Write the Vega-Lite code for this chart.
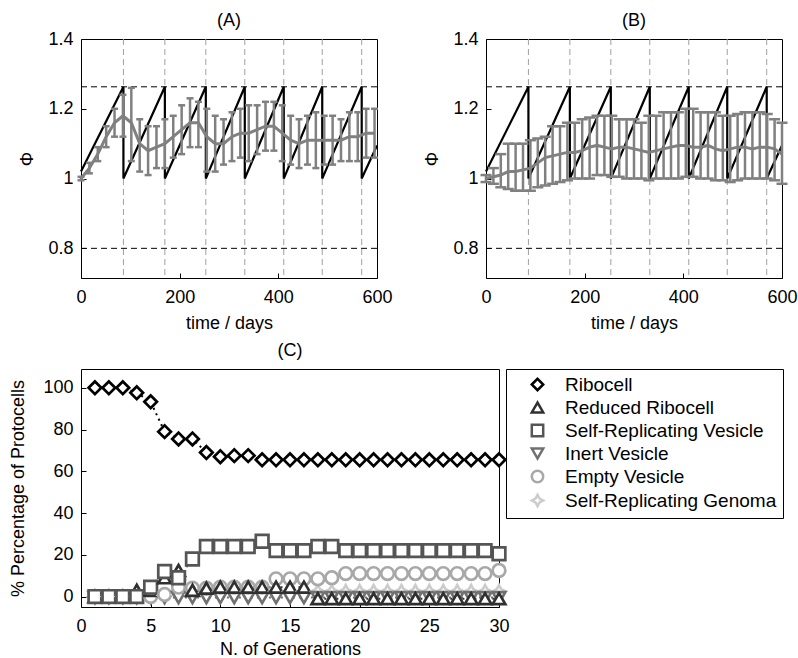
{
  "$schema": "https://vega.github.io/schema/vega-lite/v6.json",
  "padding": {"left": 9, "top": 11, "right": 5, "bottom": 5},
  "datasets": {
    "cuts": [{"t": 86}, {"t": 170}, {"t": 253}, {"t": 332}, {"t": 411}, {"t": 489}, {"t": 569}],
    "thr": [{"v": 1.263}, {"v": 0.8}],
    "saw": [
      {"i": 0, "t": 0, "phi": 1.02}, {"i": 1, "t": 86, "phi": 1.263}, {"i": 2, "t": 86, "phi": 1.0},
      {"i": 3, "t": 170, "phi": 1.263}, {"i": 4, "t": 170, "phi": 1.0}, {"i": 5, "t": 253, "phi": 1.263},
      {"i": 6, "t": 253, "phi": 1.0}, {"i": 7, "t": 332, "phi": 1.263}, {"i": 8, "t": 332, "phi": 1.0},
      {"i": 9, "t": 411, "phi": 1.263}, {"i": 10, "t": 411, "phi": 1.0}, {"i": 11, "t": 489, "phi": 1.263},
      {"i": 12, "t": 489, "phi": 1.0}, {"i": 13, "t": 569, "phi": 1.263}, {"i": 14, "t": 569, "phi": 1.0},
      {"i": 15, "t": 600, "phi": 1.095}
    ],
    "A": [
      {"t": 0, "m": 1.0, "lo": 0.995, "hi": 1.005},
      {"t": 17, "m": 1.03, "lo": 1.015, "hi": 1.045},
      {"t": 34, "m": 1.07, "lo": 1.05, "hi": 1.09},
      {"t": 51, "m": 1.12, "lo": 1.09, "hi": 1.15},
      {"t": 68, "m": 1.16, "lo": 1.12, "hi": 1.2},
      {"t": 85, "m": 1.18, "lo": 1.12, "hi": 1.24},
      {"t": 102, "m": 1.16, "lo": 1.05, "hi": 1.26},
      {"t": 119, "m": 1.1, "lo": 1.02, "hi": 1.17},
      {"t": 136, "m": 1.08, "lo": 1.01, "hi": 1.15},
      {"t": 153, "m": 1.09, "lo": 1.03, "hi": 1.15},
      {"t": 170, "m": 1.1, "lo": 1.03, "hi": 1.17},
      {"t": 187, "m": 1.12, "lo": 1.06, "hi": 1.18},
      {"t": 204, "m": 1.14, "lo": 1.07, "hi": 1.21},
      {"t": 221, "m": 1.16, "lo": 1.09, "hi": 1.23},
      {"t": 238, "m": 1.16, "lo": 1.09, "hi": 1.22},
      {"t": 255, "m": 1.12, "lo": 1.02, "hi": 1.2},
      {"t": 272, "m": 1.1, "lo": 1.02, "hi": 1.18},
      {"t": 289, "m": 1.1, "lo": 1.04, "hi": 1.17},
      {"t": 306, "m": 1.12, "lo": 1.05, "hi": 1.19},
      {"t": 323, "m": 1.13, "lo": 1.06, "hi": 1.2},
      {"t": 340, "m": 1.13, "lo": 1.05, "hi": 1.21},
      {"t": 357, "m": 1.14, "lo": 1.07, "hi": 1.21},
      {"t": 374, "m": 1.15, "lo": 1.08, "hi": 1.22},
      {"t": 391, "m": 1.15, "lo": 1.08, "hi": 1.22},
      {"t": 408, "m": 1.13, "lo": 1.05, "hi": 1.21},
      {"t": 425, "m": 1.11, "lo": 1.04, "hi": 1.18},
      {"t": 442, "m": 1.1, "lo": 1.03, "hi": 1.17},
      {"t": 459, "m": 1.11, "lo": 1.04, "hi": 1.18},
      {"t": 476, "m": 1.11, "lo": 1.03, "hi": 1.19},
      {"t": 493, "m": 1.11, "lo": 1.04, "hi": 1.18},
      {"t": 510, "m": 1.11, "lo": 1.04, "hi": 1.18},
      {"t": 527, "m": 1.11, "lo": 1.05, "hi": 1.17},
      {"t": 544, "m": 1.12, "lo": 1.05, "hi": 1.19},
      {"t": 561, "m": 1.12, "lo": 1.05, "hi": 1.19},
      {"t": 578, "m": 1.13, "lo": 1.06, "hi": 1.2},
      {"t": 595, "m": 1.13, "lo": 1.06, "hi": 1.2}
    ],
    "B": [
      {"t": 0, "m": 1.0, "lo": 0.99, "hi": 1.01},
      {"t": 15, "m": 1.005, "lo": 0.985, "hi": 1.03},
      {"t": 30, "m": 1.01, "lo": 0.975, "hi": 1.07},
      {"t": 45, "m": 1.02, "lo": 0.97, "hi": 1.1},
      {"t": 60, "m": 1.02, "lo": 0.965, "hi": 1.1},
      {"t": 75, "m": 1.025, "lo": 0.965, "hi": 1.1},
      {"t": 90, "m": 1.03, "lo": 0.965, "hi": 1.11},
      {"t": 105, "m": 1.045, "lo": 0.975, "hi": 1.115},
      {"t": 120, "m": 1.06, "lo": 0.98, "hi": 1.12},
      {"t": 135, "m": 1.065, "lo": 0.985, "hi": 1.15},
      {"t": 150, "m": 1.07, "lo": 0.99, "hi": 1.15},
      {"t": 165, "m": 1.075, "lo": 0.995, "hi": 1.16},
      {"t": 180, "m": 1.075, "lo": 1.0, "hi": 1.16},
      {"t": 195, "m": 1.08, "lo": 1.0, "hi": 1.17},
      {"t": 210, "m": 1.09, "lo": 1.0, "hi": 1.175},
      {"t": 225, "m": 1.095, "lo": 1.01, "hi": 1.18},
      {"t": 240, "m": 1.09, "lo": 1.01, "hi": 1.18},
      {"t": 255, "m": 1.085, "lo": 1.005, "hi": 1.18},
      {"t": 270, "m": 1.09, "lo": 1.005, "hi": 1.17},
      {"t": 285, "m": 1.09, "lo": 1.0, "hi": 1.17},
      {"t": 300, "m": 1.085, "lo": 1.0, "hi": 1.17},
      {"t": 315, "m": 1.08, "lo": 1.0, "hi": 1.16},
      {"t": 330, "m": 1.075, "lo": 0.995, "hi": 1.18},
      {"t": 345, "m": 1.08, "lo": 1.0, "hi": 1.18},
      {"t": 360, "m": 1.085, "lo": 1.0, "hi": 1.19},
      {"t": 375, "m": 1.09, "lo": 1.0, "hi": 1.19},
      {"t": 390, "m": 1.095, "lo": 1.0, "hi": 1.19},
      {"t": 405, "m": 1.095, "lo": 1.005, "hi": 1.2},
      {"t": 420, "m": 1.09, "lo": 1.005, "hi": 1.2},
      {"t": 435, "m": 1.09, "lo": 1.0, "hi": 1.19},
      {"t": 450, "m": 1.095, "lo": 1.0, "hi": 1.19},
      {"t": 465, "m": 1.085, "lo": 0.995, "hi": 1.19},
      {"t": 480, "m": 1.08, "lo": 0.995, "hi": 1.18},
      {"t": 495, "m": 1.085, "lo": 0.99, "hi": 1.18},
      {"t": 510, "m": 1.09, "lo": 0.995, "hi": 1.185},
      {"t": 525, "m": 1.09, "lo": 1.0, "hi": 1.19},
      {"t": 540, "m": 1.085, "lo": 1.0, "hi": 1.19},
      {"t": 555, "m": 1.09, "lo": 1.0, "hi": 1.19},
      {"t": 570, "m": 1.09, "lo": 1.0, "hi": 1.185},
      {"t": 585, "m": 1.085, "lo": 0.995, "hi": 1.17},
      {"t": 600, "m": 1.07, "lo": 0.985, "hi": 1.16}
    ],
    "C": [
      {"g": 1, "Ribocell": 100, "Reduced Ribocell": 0, "Self-Replicating Vesicle": 0, "Inert Vesicle": -0.5, "Empty Vesicle": 0, "Self-Replicating Genoma": 0},
      {"g": 2, "Ribocell": 100, "Reduced Ribocell": 0, "Self-Replicating Vesicle": 0, "Inert Vesicle": -0.5, "Empty Vesicle": 0, "Self-Replicating Genoma": 0},
      {"g": 3, "Ribocell": 100, "Reduced Ribocell": 0, "Self-Replicating Vesicle": 0, "Inert Vesicle": -0.5, "Empty Vesicle": 0, "Self-Replicating Genoma": 0},
      {"g": 4, "Ribocell": 97.6, "Reduced Ribocell": 3, "Self-Replicating Vesicle": 0, "Inert Vesicle": -0.5, "Empty Vesicle": 0, "Self-Replicating Genoma": 0},
      {"g": 5, "Ribocell": 93.3, "Reduced Ribocell": 3, "Self-Replicating Vesicle": 4.5, "Inert Vesicle": -0.5, "Empty Vesicle": 0, "Self-Replicating Genoma": 0},
      {"g": 6, "Ribocell": 79, "Reduced Ribocell": 9, "Self-Replicating Vesicle": 12, "Inert Vesicle": -0.5, "Empty Vesicle": 1, "Self-Replicating Genoma": 0.5},
      {"g": 7, "Ribocell": 75.5, "Reduced Ribocell": 12.5, "Self-Replicating Vesicle": 9, "Inert Vesicle": -0.5, "Empty Vesicle": 4.5, "Self-Replicating Genoma": 1},
      {"g": 8, "Ribocell": 75.5, "Reduced Ribocell": 3, "Self-Replicating Vesicle": 18, "Inert Vesicle": -0.5, "Empty Vesicle": 4, "Self-Replicating Genoma": 1},
      {"g": 9, "Ribocell": 69, "Reduced Ribocell": 4, "Self-Replicating Vesicle": 24, "Inert Vesicle": -0.5, "Empty Vesicle": 4, "Self-Replicating Genoma": 2},
      {"g": 10, "Ribocell": 67, "Reduced Ribocell": 4.5, "Self-Replicating Vesicle": 24, "Inert Vesicle": -0.5, "Empty Vesicle": 4.5, "Self-Replicating Genoma": 2.5},
      {"g": 11, "Ribocell": 67.5, "Reduced Ribocell": 4.5, "Self-Replicating Vesicle": 24, "Inert Vesicle": -0.5, "Empty Vesicle": 4.5, "Self-Replicating Genoma": 2.5},
      {"g": 12, "Ribocell": 67.5, "Reduced Ribocell": 4.5, "Self-Replicating Vesicle": 24, "Inert Vesicle": -0.5, "Empty Vesicle": 4.5, "Self-Replicating Genoma": 2.5},
      {"g": 13, "Ribocell": 65.5, "Reduced Ribocell": 4.5, "Self-Replicating Vesicle": 26.5, "Inert Vesicle": -0.5, "Empty Vesicle": 4.5, "Self-Replicating Genoma": 2.5},
      {"g": 14, "Ribocell": 65.5, "Reduced Ribocell": 4.5, "Self-Replicating Vesicle": 22, "Inert Vesicle": -0.5, "Empty Vesicle": 8.5, "Self-Replicating Genoma": 2.5},
      {"g": 15, "Ribocell": 65.5, "Reduced Ribocell": 4.5, "Self-Replicating Vesicle": 22, "Inert Vesicle": -0.5, "Empty Vesicle": 8.5, "Self-Replicating Genoma": 2.5},
      {"g": 16, "Ribocell": 65.5, "Reduced Ribocell": 4.5, "Self-Replicating Vesicle": 22, "Inert Vesicle": -0.5, "Empty Vesicle": 8.5, "Self-Replicating Genoma": 2.5},
      {"g": 17, "Ribocell": 65.5, "Reduced Ribocell": -1, "Self-Replicating Vesicle": 24, "Inert Vesicle": -0.5, "Empty Vesicle": 8.5, "Self-Replicating Genoma": 2.5},
      {"g": 18, "Ribocell": 65.5, "Reduced Ribocell": -1, "Self-Replicating Vesicle": 24, "Inert Vesicle": -0.5, "Empty Vesicle": 9, "Self-Replicating Genoma": 2.5},
      {"g": 19, "Ribocell": 65.5, "Reduced Ribocell": -1, "Self-Replicating Vesicle": 22, "Inert Vesicle": -0.5, "Empty Vesicle": 11, "Self-Replicating Genoma": 2.5},
      {"g": 20, "Ribocell": 65.5, "Reduced Ribocell": -1, "Self-Replicating Vesicle": 22, "Inert Vesicle": -0.5, "Empty Vesicle": 11, "Self-Replicating Genoma": 2.5},
      {"g": 21, "Ribocell": 65.5, "Reduced Ribocell": -1, "Self-Replicating Vesicle": 22, "Inert Vesicle": -0.5, "Empty Vesicle": 11, "Self-Replicating Genoma": 2.5},
      {"g": 22, "Ribocell": 65.5, "Reduced Ribocell": -1, "Self-Replicating Vesicle": 22, "Inert Vesicle": -0.5, "Empty Vesicle": 11, "Self-Replicating Genoma": 2.5},
      {"g": 23, "Ribocell": 65.5, "Reduced Ribocell": -1, "Self-Replicating Vesicle": 22, "Inert Vesicle": -0.5, "Empty Vesicle": 11, "Self-Replicating Genoma": 2.5},
      {"g": 24, "Ribocell": 65.5, "Reduced Ribocell": -1, "Self-Replicating Vesicle": 22, "Inert Vesicle": -0.5, "Empty Vesicle": 11, "Self-Replicating Genoma": 2.5},
      {"g": 25, "Ribocell": 65.5, "Reduced Ribocell": -1, "Self-Replicating Vesicle": 22, "Inert Vesicle": -0.5, "Empty Vesicle": 11, "Self-Replicating Genoma": 2.5},
      {"g": 26, "Ribocell": 65.5, "Reduced Ribocell": -1, "Self-Replicating Vesicle": 22, "Inert Vesicle": -0.5, "Empty Vesicle": 11, "Self-Replicating Genoma": 2.5},
      {"g": 27, "Ribocell": 65.5, "Reduced Ribocell": -1, "Self-Replicating Vesicle": 22, "Inert Vesicle": -0.5, "Empty Vesicle": 11, "Self-Replicating Genoma": 2.5},
      {"g": 28, "Ribocell": 65.5, "Reduced Ribocell": -1, "Self-Replicating Vesicle": 22, "Inert Vesicle": -0.5, "Empty Vesicle": 11, "Self-Replicating Genoma": 2.5},
      {"g": 29, "Ribocell": 65.5, "Reduced Ribocell": -1, "Self-Replicating Vesicle": 22, "Inert Vesicle": -0.5, "Empty Vesicle": 11, "Self-Replicating Genoma": 2.5},
      {"g": 30, "Ribocell": 65.5, "Reduced Ribocell": -1, "Self-Replicating Vesicle": 20.5, "Inert Vesicle": -0.5, "Empty Vesicle": 12.5, "Self-Replicating Genoma": 2.5}
    ]
  },
  "vconcat": [
    {
      "hconcat": [
        {
          "title": {"text": "(A)", "frame": "group", "offset": 0},
          "width": 296,
          "height": 239,
          "layer": [
            {"data": {"name": "cuts"}, "mark": {"type": "rule", "color": "#a0a0a0", "strokeDash": [6, 4], "strokeWidth": 1},
             "encoding": {"x": {"field": "t", "type": "quantitative", "scale": {"domain": [0, 600], "nice": false}, "axis": {"values": [0, 200, 400, 600], "title": "time / days"}}}},
            {"data": {"name": "thr"}, "mark": {"type": "rule", "color": "black", "strokeDash": [6, 4], "strokeWidth": 1},
             "encoding": {"y": {"field": "v", "type": "quantitative", "scale": {"domain": [0.715, 1.4], "nice": false, "zero": false}, "axis": {"values": [0.8, 1, 1.2, 1.4], "format": "~g", "title": "Φ", "titlePadding": 11}}}},
            {"data": {"name": "saw"}, "mark": {"type": "line", "color": "black", "strokeWidth": 2.2},
             "encoding": {"x": {"field": "t", "type": "quantitative"}, "y": {"field": "phi", "type": "quantitative"}, "order": {"field": "i", "type": "quantitative"}}},
            {"data": {"name": "A"}, "mark": {"type": "rule", "color": "#808080", "strokeWidth": 2.5},
             "encoding": {"x": {"field": "t", "type": "quantitative"}, "y": {"field": "lo", "type": "quantitative"}, "y2": {"field": "hi"}}},
            {"data": {"name": "A"}, "mark": {"type": "tick", "orient": "horizontal", "size": 7, "thickness": 2.5, "color": "#808080", "opacity": 1},
             "encoding": {"x": {"field": "t", "type": "quantitative"}, "y": {"field": "lo", "type": "quantitative"}}},
            {"data": {"name": "A"}, "mark": {"type": "tick", "orient": "horizontal", "size": 7, "thickness": 2.5, "color": "#808080", "opacity": 1},
             "encoding": {"x": {"field": "t", "type": "quantitative"}, "y": {"field": "hi", "type": "quantitative"}}},
            {"data": {"name": "A"}, "mark": {"type": "line", "color": "#808080", "strokeWidth": 3},
             "encoding": {"x": {"field": "t", "type": "quantitative"}, "y": {"field": "m", "type": "quantitative"}}}
          ]
        },
        {
          "title": {"text": "(B)", "frame": "group", "offset": 0},
          "width": 296,
          "height": 239,
          "layer": [
            {"data": {"name": "cuts"}, "mark": {"type": "rule", "color": "#a0a0a0", "strokeDash": [6, 4], "strokeWidth": 1},
             "encoding": {"x": {"field": "t", "type": "quantitative", "scale": {"domain": [0, 600], "nice": false}, "axis": {"values": [0, 200, 400, 600], "title": "time / days"}}}},
            {"data": {"name": "thr"}, "mark": {"type": "rule", "color": "black", "strokeDash": [6, 4], "strokeWidth": 1},
             "encoding": {"y": {"field": "v", "type": "quantitative", "scale": {"domain": [0.715, 1.4], "nice": false, "zero": false}, "axis": {"values": [0.8, 1, 1.2, 1.4], "format": "~g", "title": "Φ", "titlePadding": 11}}}},
            {"data": {"name": "saw"}, "mark": {"type": "line", "color": "black", "strokeWidth": 2.2},
             "encoding": {"x": {"field": "t", "type": "quantitative"}, "y": {"field": "phi", "type": "quantitative"}, "order": {"field": "i", "type": "quantitative"}}},
            {"data": {"name": "B"}, "mark": {"type": "rule", "color": "#808080", "strokeWidth": 2.5},
             "encoding": {"x": {"field": "t", "type": "quantitative"}, "y": {"field": "lo", "type": "quantitative"}, "y2": {"field": "hi"}}},
            {"data": {"name": "B"}, "mark": {"type": "tick", "orient": "horizontal", "size": 11, "thickness": 2.5, "color": "#808080", "opacity": 1},
             "encoding": {"x": {"field": "t", "type": "quantitative"}, "y": {"field": "lo", "type": "quantitative"}}},
            {"data": {"name": "B"}, "mark": {"type": "tick", "orient": "horizontal", "size": 11, "thickness": 2.5, "color": "#808080", "opacity": 1},
             "encoding": {"x": {"field": "t", "type": "quantitative"}, "y": {"field": "hi", "type": "quantitative"}}},
            {"data": {"name": "B"}, "mark": {"type": "line", "color": "#808080", "strokeWidth": 3},
             "encoding": {"x": {"field": "t", "type": "quantitative"}, "y": {"field": "m", "type": "quantitative"}}}
          ]
        }
      ],
      "spacing": 109,
      "bounds": "flush"
    },
    {
      "title": {"text": "(C)", "frame": "group", "offset": 9},
      "width": 418,
      "height": 238,
      "data": {"name": "C"},
      "transform": [
        {"fold": ["Self-Replicating Genoma", "Inert Vesicle", "Empty Vesicle", "Reduced Ribocell", "Self-Replicating Vesicle", "Ribocell"], "as": ["series", "pct"]}
      ],
      "encoding": {
        "x": {"field": "g", "type": "quantitative", "scale": {"domain": [0, 30], "nice": false}, "axis": {"values": [0, 5, 10, 15, 20, 25, 30], "title": "N. of Generations", "titlePadding": 5}},
        "y": {"field": "pct", "type": "quantitative", "scale": {"domain": [-5, 109], "nice": false, "zero": false}, "axis": {"values": [0, 20, 40, 60, 80, 100], "title": "% Percentage of Protocells", "titlePadding": 15}},
        "color": {"field": "series", "type": "nominal",
          "scale": {"domain": ["Ribocell", "Reduced Ribocell", "Self-Replicating Vesicle", "Inert Vesicle", "Empty Vesicle", "Self-Replicating Genoma"],
                    "range": ["#000000", "#303030", "#555555", "#707070", "#a8a8a8", "#cccccc"]},
          "legend": {"title": null}}
      },
      "layer": [
        {
          "mark": {"type": "line", "strokeDash": [2, 4], "strokeWidth": 2}
        },
        {
          "mark": {"type": "point", "size": 160, "strokeWidth": 2.7, "opacity": 1, "filled": false, "fill": "white"},
          "encoding": {
            "shape": {"field": "series", "type": "nominal",
              "scale": {"domain": ["Ribocell", "Reduced Ribocell", "Self-Replicating Vesicle", "Inert Vesicle", "Empty Vesicle", "Self-Replicating Genoma"],
                        "range": ["diamond", "triangle-up", "square", "triangle-down", "circle", "M0,-1L0.35,-0.35L1,0L0.35,0.35L0,1L-0.35,0.35L-1,0L-0.35,-0.35Z"]},
              "legend": {"title": null}}
          }
        }
      ]
    }
  ],
  "spacing": 330,
  "bounds": "flush",
  "config": {
    "font": "Liberation Sans",
    "view": {"stroke": "black", "strokeWidth": 1},
    "title": {"fontSize": 18, "fontWeight": "normal", "color": "black", "font": "Liberation Sans"},
    "axis": {
      "domain": false, "grid": false, "ticks": true, "tickSize": -5, "tickColor": "black",
      "labelFont": "Liberation Sans", "titleFont": "Liberation Sans",
      "labelFontSize": 18, "titleFontSize": 18, "titleFontWeight": "normal",
      "labelColor": "black", "titleColor": "black",
      "labelPadding": 13, "titlePadding": 15, "labelFlush": false, "labelOverlap": false
    },
    "axisX": {"labelPadding": 15, "titlePadding": 8},
    "legend": {
      "orient": "none", "legendX": 425, "legendY": 330,
      "labelFont": "Liberation Sans", "labelFontSize": 19, "labelColor": "black",
      "strokeColor": "black", "fillColor": "white", "padding": 6,
      "symbolStrokeWidth": 2.5, "symbolSize": 130, "rowPadding": 1, "labelLimit": 400,
      "symbolFillColor": "white", "symbolOffset": 16, "labelOffset": 18
    }
  }
}
